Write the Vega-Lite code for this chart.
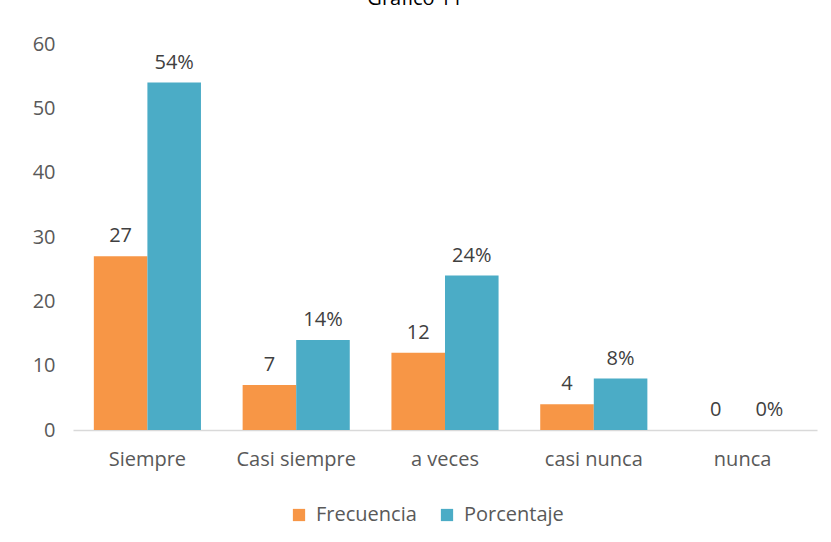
{
  "$schema": "https://vega.github.io/schema/vega-lite/v6.json",
  "width": 744,
  "height": 386,
  "autosize": {"type": "none"},
  "padding": {"left": 73, "top": 44, "right": 14, "bottom": 112},
  "background": "white",
  "title": {"text": "Gráfico 11", "font": "Open Sans", "fontSize": 20, "fontWeight": "normal", "color": "#000000", "anchor": "middle", "offset": 5, "dx": -30, "baseline": "bottom"},
  "data": {"values": [
    {"cat": "Siempre", "serie": "Frecuencia", "value": 27, "label": "27"},
    {"cat": "Siempre", "serie": "Porcentaje", "value": 54, "label": "54%"},
    {"cat": "Casi siempre", "serie": "Frecuencia", "value": 7, "label": "7"},
    {"cat": "Casi siempre", "serie": "Porcentaje", "value": 14, "label": "14%"},
    {"cat": "a veces", "serie": "Frecuencia", "value": 12, "label": "12"},
    {"cat": "a veces", "serie": "Porcentaje", "value": 24, "label": "24%"},
    {"cat": "casi nunca", "serie": "Frecuencia", "value": 4, "label": "4"},
    {"cat": "casi nunca", "serie": "Porcentaje", "value": 8, "label": "8%"},
    {"cat": "nunca", "serie": "Frecuencia", "value": 0, "label": "0"},
    {"cat": "nunca", "serie": "Porcentaje", "value": 0, "label": "0%"}
  ]},
  "encoding": {
    "x": {"field": "cat", "type": "nominal", "sort": null, "title": null,
      "scale": {"paddingInner": 0.28, "paddingOuter": 0.14},
      "axis": {"labelAngle": 0, "labelFont": "Open Sans", "labelFontSize": 20, "labelColor": "#595959", "ticks": false, "domainColor": "#d9d9d9", "domainWidth": 1.5, "labelPadding": 19}},
    "xOffset": {"field": "serie", "type": "nominal", "scale": {"paddingInner": 0, "paddingOuter": 0}},
    "y": {"field": "value", "type": "quantitative", "title": null,
      "scale": {"domain": [0, 60], "nice": false},
      "axis": {"values": [0, 10, 20, 30, 40, 50, 60], "grid": false, "domain": false, "ticks": false, "labelFont": "Open Sans", "labelFontSize": 20, "labelColor": "#595959", "labelPadding": 18}}
  },
  "layer": [
    {"mark": {"type": "bar"},
      "encoding": {"color": {"field": "serie", "type": "nominal",
        "scale": {"domain": ["Frecuencia", "Porcentaje"], "range": ["#F79646", "#4BACC6"]},
        "legend": {"title": null, "orient": "none", "legendX": 216, "legendY": 461, "direction": "horizontal", "symbolType": "square", "symbolSize": 150, "symbolStrokeWidth": 0, "labelFont": "Open Sans", "labelFontSize": 20, "labelColor": "#595959", "columnPadding": 20, "labelOffset": 7}}}},
    {"mark": {"type": "text", "baseline": "bottom", "dy": -10, "font": "Open Sans", "fontSize": 20, "color": "#404040"},
      "encoding": {"text": {"field": "label"}}}
  ],
  "config": {"view": {"stroke": null}}
}
